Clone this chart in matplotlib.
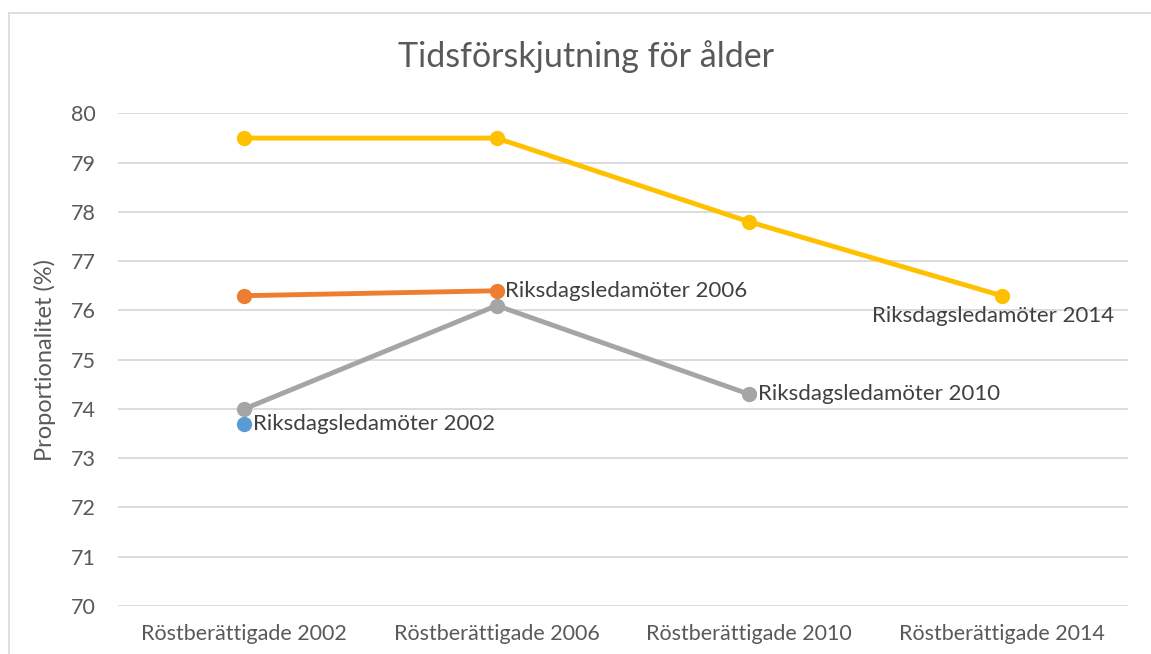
import numpy as np
import matplotlib
matplotlib.use('Agg')
import matplotlib.pyplot as plt
from matplotlib.lines import Line2D

"""
Tidsförskjutning för ålder - line chart
"""

categories = ["Röstberättigade 2002", "Röstberättigade 2006",
              "Röstberättigade 2010", "Röstberättigade 2014"]

# each series only runs up to its own year
series_names = ["Riksdagsledamöter 2002", "Riksdagsledamöter 2006",
                "Riksdagsledamöter 2010", "Riksdagsledamöter 2014"]
ledamoter_2002 = [73.7]
ledamoter_2006 = [76.3, 76.4]
ledamoter_2010 = [74.0, 76.1, 74.3]
ledamoter_2014 = [79.5, 79.5, 77.8, 76.3]

colors = ["#5B9BD5", "#ED7D31", "#A5A5A5", "#FFC000"]

plt.rcParams['font.family'] = ['Lato', 'DejaVu Sans']


def main():
	fig = plt.figure(figsize=(11.51, 6.54), dpi=100)
	ax = fig.add_axes([0.1025, 0.0734, 0.8775, 0.7531])

	allSeries = [ledamoter_2002, ledamoter_2006, ledamoter_2010, ledamoter_2014]
	for vals, name, col in zip(allSeries, series_names, colors):
		x = np.arange(len(vals))
		ax.plot(x, vals, color=col, linewidth=3.5, marker='o', markersize=10,
				solid_capstyle='round', zorder=3)
		# label at the last point
		if name.endswith("2014"):
			ax.annotate(name, (x[-1], vals[-1]), xytext=(-6, -14.5),
						textcoords='offset points', ha='center', va='center',
						fontsize=16, color='#404040')
		else:
			ax.annotate(name, (x[-1], vals[-1]), xytext=(6, 0),
						textcoords='offset points', ha='left', va='center',
						fontsize=16, color='#404040')

	ax.set_xlim(-0.5, 3.5)
	ax.set_ylim(70, 80)
	ax.set_yticks(np.arange(70, 81, 1))
	ax.set_xticks(np.arange(len(categories)))
	ax.set_xticklabels(categories)
	ax.tick_params(axis='both', length=0, labelsize=15.5, colors='#595959')
	ax.tick_params(axis='y', pad=16)
	ax.tick_params(axis='x', pad=13)
	ax.grid(axis='y', color='#D9D9D9', linewidth=1.3, zorder=0)
	ax.set_axisbelow(True)
	for s in ax.spines.values():
		s.set_visible(False)

	fig.text(45 / 1151, (0.0734 + 0.8265) / 2, "Proportionalitet (%)",
			 rotation=90, ha='center', va='center', fontsize=17, color='#595959')
	fig.text(586 / 1151, 0.913, "Tidsförskjutning för ålder", ha='center', va='center',
			 fontsize=24.5, color='#595959')

	# chart area border (left and top edges visible)
	fig.add_artist(Line2D([8.5 / 1151, 8.5 / 1151], [0, 1 - 12.5 / 654],
						  color='#D9D9D9', linewidth=1.2, transform=fig.transFigure))
	fig.add_artist(Line2D([8.5 / 1151, 1], [1 - 12.5 / 654, 1 - 12.5 / 654],
						  color='#D9D9D9', linewidth=1.2, transform=fig.transFigure))

	fig.savefig('out.png', dpi=100)


if __name__ == "__main__":
	main()
